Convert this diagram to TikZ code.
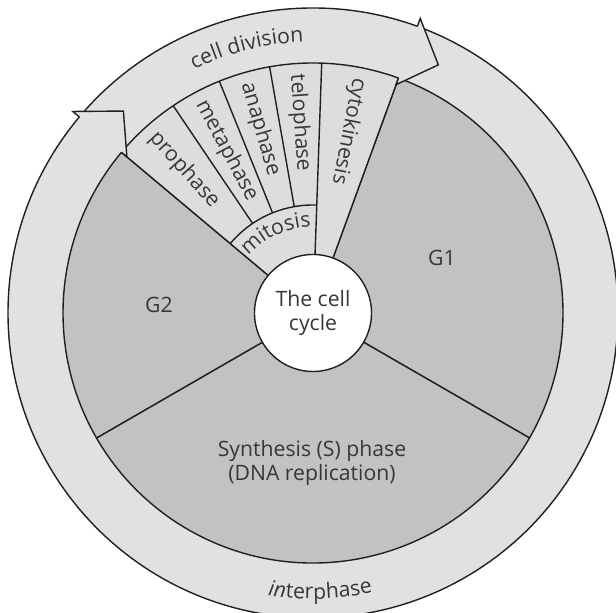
\documentclass[tikz,border=0pt]{standalone}
\usepackage{fontspec}
\setmainfont{Open Sans}
\usetikzlibrary{decorations.text}
\definecolor{ringgray}{RGB}{224,225,227}
\definecolor{wedgegray}{RGB}{220,221,223}
\definecolor{phasegray}{RGB}{193,194,196}
\definecolor{inkline}{RGB}{35,31,32}
\definecolor{inktext}{RGB}{55,55,55}
\begin{document}
\fontsize{10.6}{11.8}\selectfont
\begin{tikzpicture}[x=0.5pt,y=0.5pt,line width=0.7pt,
  part/.style={draw=inkline,fill=#1,line join=round},
  lbl/.style={text=inktext,inner sep=0pt,align=center},
  phase/.style={text=inktext,inner sep=0pt,anchor=west},
  curved/.style={decorate,decoration={text along path,text={#1},text align=center,text color=inktext}}]
\useasboundingbox (-313,-300) rectangle (303,313);

\filldraw[part=ringgray] (0,0) circle[radius=305];

\filldraw[part=phasegray] (0,0) -- (70:250) arc[start angle=70,end angle=-30,radius=250] -- cycle;
\filldraw[part=phasegray] (0,0) -- (-30:250) arc[start angle=-30,end angle=-150,radius=250] -- cycle;
\filldraw[part=phasegray] (0,0) -- (210:250) arc[start angle=210,end angle=140,radius=250] -- cycle;
\filldraw[part=wedgegray] (0,0) -- (140:250) arc[start angle=140,end angle=70,radius=250] -- cycle;

\draw[inkline] (0,0) -- (88:250);
\draw[inkline] (88:108) arc[start angle=88,end angle=140,radius=108];
\foreach \a in {100,112,124}
  \draw[inkline] (\a:108) -- (\a:250);

\fill[ringgray] (70:313.5) -- (63.2:278) -- (70:243) -- cycle;
\draw[inkline] (70:305) -- (70:313.5) -- (63.2:278) -- (70:243) -- (70:250);
\fill[ringgray] (140:313.5) -- (133.2:277) -- (140:243) -- cycle;
\draw[inkline] (140:305) -- (140:313.5) -- (133.2:277) -- (140:243) -- (140:250);

\node[circle,draw=inkline,fill=white,minimum size=58.5pt,lbl] (hub) at (0,0) {The cell\\cycle};
\node[lbl] (g1) at (129,55) {G1};
\node[lbl] (g2) at (-154,8.5) {G2};
\node[lbl] (sph) at (-1,-150) {Synthesis (S) phase\\(DNA replication)};

\node[phase,rotate=-48] (pro) at (132:240) {prophase};
\node[phase,rotate=-62] (meta) at (118:240) {metaphase};
\node[phase,rotate=-74] (ana) at (106:240) {anaphase};
\node[phase,rotate=-86] (telo) at (94:240) {telophase};
\node[phase,rotate=-101] (cyto) at (79:240) {cytokinesis};

\path[curved={cell division}] (130:271) arc[start angle=130,end angle=78,radius=271];
\path[curved={mitosis}] (140:86) arc[start angle=140,end angle=90,radius=86];
\path[curved={|\itshape|in||terphase}] (-113.5:286) arc[start angle=-113.5,end angle=-63.5,radius=286];
\end{tikzpicture}
\end{document}
